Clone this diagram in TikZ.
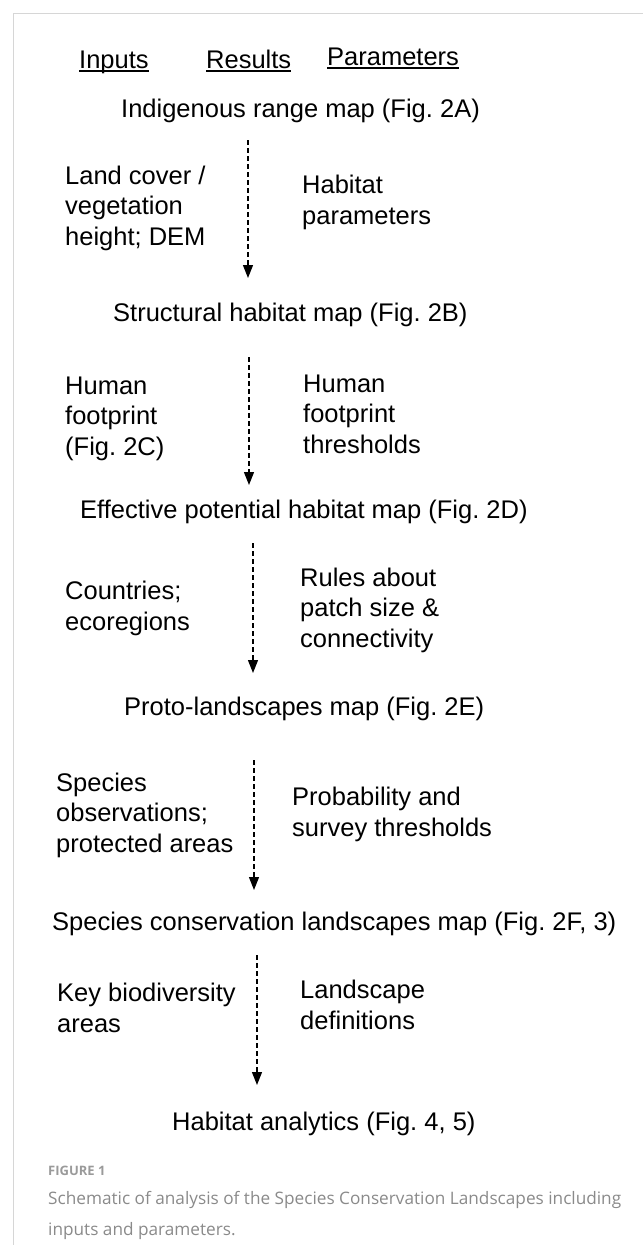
\documentclass[tikz,border=0pt]{standalone}
\usepackage{fontspec}
\setmainfont{Liberation Sans}
\newfontfamily\capfont{Open Sans}
\usetikzlibrary{arrows.meta}
\frenchspacing

\definecolor{framegray}{HTML}{D6D6D6}
\definecolor{capgray}{HTML}{8A8A8A}
\definecolor{labgray}{HTML}{9A9A9A}

\tikzset{
  txt/.style={anchor=base west, inner sep=0pt, align=left,
    font=\fontsize{25.5}{30.5}\selectfont},
  flow/.style={->, dashed, dash pattern=on 5pt off 3pt, line width=1.3pt},
  uline/.style={line width=1.4pt},
}

\begin{document}
\begin{tikzpicture}[>={Triangle[length=13pt,width=10pt]}, x=1pt, y=-1pt]
    \useasboundingbox (0,0) rectangle (643,1245);
    \draw[framegray, line width=1pt] (13,1245) -- (13,13) -- (643,13);

    % column heads
    \node[txt] (hin) at (79,68) {Inputs};
    \node[txt] (hres) at (206,68) {Results};
    \node[txt] (hpar) at (327,65) {Parameters};
    \draw[uline] ([yshift=-3pt]hin.base west) -- ([yshift=-3pt]hin.base east);
    \draw[uline] ([yshift=-3pt]hres.base west) -- ([yshift=-3pt]hres.base east);
    \draw[uline] ([yshift=-3pt]hpar.base west) -- ([yshift=-3pt]hpar.base east);

    % results
    \node[txt] (range) at (121,117) {Indigenous range map (Fig. 2A)};
    \node[txt] (struct) at (113,321) {Structural habitat map (Fig. 2B)};
    \node[txt] (effect) at (80,518) {Effective potential habitat map (Fig. 2D)};
    \node[txt] (proto) at (124,715) {Proto-landscapes map (Fig. 2E)};
    \node[txt] (scl) at (52,930) {Species conservation landscapes map (Fig. 2F, 3)};
    \node[txt] (analytics) at (172,1130) {Habitat analytics (Fig. 4, 5)};

    % inputs (placed at the last line)
    \node[txt] (in1) at (65,245) {Land cover /\\vegetation\\height; DEM};
    \node[txt] (in2) at (65,455) {Human\\footprint\\(Fig. 2C)};
    \node[txt] (in3) at (65,630) {Countries;\\ecoregions};
    \node[txt] (in4) at (56,852) {Species\\observations;\\protected areas};
    \node[txt] (in5) at (57,1032) {Key biodiversity\\areas};

    % parameters
    \node[txt] (par1) at (302,224) {Habitat\\parameters};
    \node[txt] (par2) at (303,453) {Human\\footprint\\thresholds};
    \node[txt] (par3) at (300,647) {Rules about\\patch size \&\\connectivity};
    \node[txt] (par4) at (292,836) {Probability and\\survey thresholds};
    \node[txt] (par5) at (300,1029) {Landscape\\definitions};

    % arrows
    \coordinate (a1) at (248,140);  \coordinate (b1) at (248,278);
    \coordinate (a2) at (249,357);  \coordinate (b2) at (249,485);
    \coordinate (a3) at (253,543);  \coordinate (b3) at (253,673);
    \coordinate (a4) at (254,760);  \coordinate (b4) at (254,890);
    \coordinate (a5) at (257,955);  \coordinate (b5) at (257,1085);
    \draw[flow] (a1) -- (b1);
    \draw[flow] (a2) -- (b2);
    \draw[flow] (a3) -- (b3);
    \draw[flow] (a4) -- (b4);
    \draw[flow] (a5) -- (b5);

    % caption
    \node[anchor=base west, inner sep=0pt, text=labgray,
      font=\capfont\fontsize{13}{16}\selectfont\bfseries] (fig) at (48,1175) {FIGURE 1};
    \node[anchor=base west, inner sep=0pt, align=left, text=capgray,
      font=\capfont\fontsize{17.2}{31}\selectfont] (cap) at (48,1235)
      {Schematic of analysis of the Species Conservation Landscapes including\\inputs and parameters.};
\end{tikzpicture}
\end{document}
